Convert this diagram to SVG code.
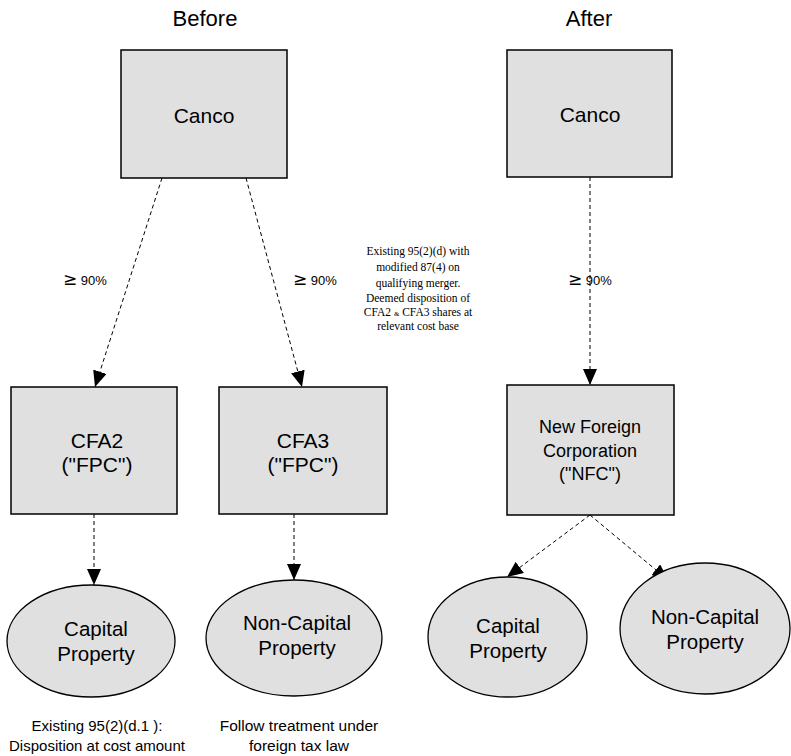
<svg xmlns="http://www.w3.org/2000/svg" width="791" height="756" viewBox="0 0 791 756">
  <style>
    .box { fill: #e0e0e0; stroke: #000; stroke-width: 1.5; }
    .ell { fill: #e0e0e0; stroke: #000; stroke-width: 1.3; }
    .t { font-family: "Liberation Sans", Arial, sans-serif; fill: #000; text-anchor: middle; }
    .pct { font-family: "Liberation Sans", Arial, sans-serif; font-size: 13px; fill: #000; }
    .ge { font-family: "DejaVu Sans", sans-serif; font-size: 17px; }
    .serif { font-family: "Liberation Serif", "Times New Roman", serif; font-size: 11.5px; fill: #000; text-anchor: middle; }
    .link { fill: none; stroke: #000; stroke-width: 1; stroke-dasharray: 4 3; }
  </style>
  <defs>
    <marker id="arrow" markerUnits="userSpaceOnUse" markerWidth="17" markerHeight="14" refX="16" refY="7" orient="auto">
      <path d="M0,0 L16,7 L0,14 z" fill="#000"/>
    </marker>
  </defs>

  <!-- column titles -->
  <text class="t" x="205" y="26" font-size="22">Before</text>
  <text class="t" x="589" y="26" font-size="22">After</text>

  <!-- connectors -->
  <g id="connectors">
    <line class="link" x1="162" y1="178" x2="95" y2="387" marker-end="url(#arrow)"/>
    <line class="link" x1="246" y1="178" x2="302" y2="387" marker-end="url(#arrow)"/>
    <line class="link" x1="590" y1="177" x2="590" y2="385" marker-end="url(#arrow)"/>
    <line class="link" x1="94" y1="514" x2="94" y2="585" marker-end="url(#arrow)"/>
    <line class="link" x1="294" y1="514" x2="294" y2="580" marker-end="url(#arrow)"/>
    <line class="link" x1="590" y1="515" x2="507" y2="577" marker-end="url(#arrow)"/>
    <line class="link" x1="590" y1="515" x2="668" y2="580" marker-end="url(#arrow)"/>
  </g>

  <!-- ownership labels -->
  <g id="labels">
    <text class="pct" x="63" y="285"><tspan class="ge">≥</tspan> 90%</text>
    <text class="pct" x="293" y="285"><tspan class="ge">≥</tspan> 90%</text>
    <text class="pct" x="568" y="285"><tspan class="ge">≥</tspan> 90%</text>
  </g>

  <!-- merger note -->
  <g id="note">
    <text class="serif" x="418" y="255">Existing 95(2)(d) with</text>
    <text class="serif" x="418" y="271">modified 87(4) on</text>
    <text class="serif" x="418" y="287">qualifying merger.</text>
    <text class="serif" x="418" y="302">Deemed disposition of</text>
    <text class="serif" x="418" y="316">CFA2 <tspan font-size="7">&amp;</tspan> CFA3 shares at</text>
    <text class="serif" x="418" y="330">relevant cost base</text>
  </g>

  <!-- before -->
  <g id="canco-before">
    <rect class="box" x="121" y="50" width="166" height="128"/>
    <text class="t" x="204" y="123" font-size="21">Canco</text>
  </g>
  <g id="cfa2">
    <rect class="box" x="11" y="387" width="166" height="127"/>
    <text class="t" x="97" y="448" font-size="21">CFA2</text>
    <text class="t" x="97" y="472" font-size="21">("FPC")</text>
  </g>
  <g id="cfa3">
    <rect class="box" x="219" y="387" width="168" height="127"/>
    <text class="t" x="303" y="448" font-size="21">CFA3</text>
    <text class="t" x="303" y="472" font-size="21">("FPC")</text>
  </g>
  <g id="capital-before">
    <ellipse class="ell" cx="91" cy="641" rx="84" ry="56"/>
    <text class="t" x="96" y="636" font-size="20.5">Capital</text>
    <text class="t" x="96" y="661" font-size="20.5">Property</text>
  </g>
  <g id="noncapital-before">
    <ellipse class="ell" cx="294" cy="638" rx="88" ry="58"/>
    <text class="t" x="297" y="630" font-size="20.5">Non-Capital</text>
    <text class="t" x="297" y="655" font-size="20.5">Property</text>
  </g>
  <g id="notes-before">
    <text class="t" x="97" y="731" font-size="15">Existing 95(2)(d.1 ):</text>
    <text class="t" x="97" y="751" font-size="15">Disposition at cost amount</text>
    <text class="t" x="299" y="731" font-size="15.5">Follow treatment under</text>
    <text class="t" x="299" y="751" font-size="15.5">foreign tax law</text>
  </g>

  <!-- after -->
  <g id="canco-after">
    <rect class="box" x="507" y="50" width="165" height="127"/>
    <text class="t" x="590" y="122" font-size="21">Canco</text>
  </g>
  <g id="nfc">
    <rect class="box" x="507" y="385" width="167" height="130"/>
    <text class="t" x="590" y="433" font-size="18">New Foreign</text>
    <text class="t" x="590" y="457" font-size="18">Corporation</text>
    <text class="t" x="590" y="480" font-size="18">("NFC")</text>
  </g>
  <g id="capital-after">
    <ellipse class="ell" cx="507.5" cy="637" rx="79.5" ry="60"/>
    <text class="t" x="508" y="633" font-size="20.5">Capital</text>
    <text class="t" x="508" y="658" font-size="20.5">Property</text>
  </g>
  <g id="noncapital-after">
    <ellipse class="ell" cx="705" cy="628.5" rx="85" ry="65.5"/>
    <text class="t" x="705" y="624" font-size="20.5">Non-Capital</text>
    <text class="t" x="705" y="649" font-size="20.5">Property</text>
  </g>
</svg>
